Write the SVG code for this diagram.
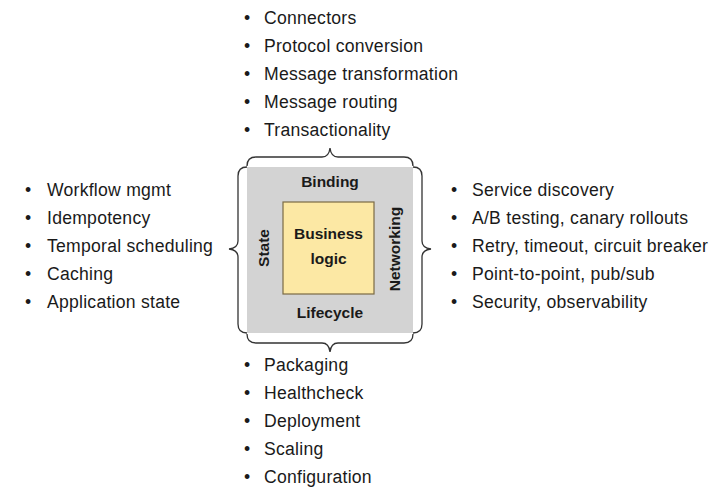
<svg xmlns="http://www.w3.org/2000/svg" width="726" height="495" viewBox="0 0 726 495">
<style>
.li{font-family:"Liberation Sans",Arial,sans-serif;font-size:17.6px;letter-spacing:0.25px;fill:#1a1a1a}
.lb{font-family:"Liberation Sans",Arial,sans-serif;font-size:15.5px;font-weight:bold;fill:#1a1a1a}
.br{fill:none;stroke:#333;stroke-width:1.3}
</style>
<rect width="726" height="495" fill="#fff"/>
<g id="container">
<rect x="247" y="167" width="166" height="166" fill="#d3d3d3"/>
<text class="lb" x="330" y="187" text-anchor="middle">Binding</text>
<text class="lb" x="330" y="318" text-anchor="middle">Lifecycle</text>
<text class="lb" transform="translate(269,248) rotate(-90)" text-anchor="middle">State</text>
<text class="lb" transform="translate(400,249) rotate(-90)" text-anchor="middle">Networking</text>
</g>
<g id="business-logic">
<rect x="283" y="202" width="91" height="92" fill="#fce8a4" stroke="#7a6a45" stroke-width="1.2"/>
<text class="lb" x="328.5" y="239" text-anchor="middle">Business</text>
<text class="lb" x="328.5" y="264" text-anchor="middle">logic</text>
</g>
<g id="connectors">
<path class="br" d="M247,166 Q247,157 256,157 L322,157 Q329,157 330,148 Q331,157 338,157 L404,157 Q413,157 413,166"/>
<path class="br" d="M247,334 Q247,343 256,343 L322,343 Q329,343 330,352 Q331,343 338,343 L404,343 Q413,343 413,334"/>
<path class="br" d="M247,167 Q238,167 238,176 L238,241 Q238,248 229,249 Q238,250 238,257 L238,324 Q238,333 247,333"/>
<path class="br" d="M413,167 Q422,167 422,176 L422,241 Q422,248 431,249 Q422,250 422,257 L422,324 Q422,333 413,333"/>
</g>
<g id="top-list" class="li">
<text x="244" y="24">•</text><text x="264" y="24">Connectors</text>
<text x="244" y="52">•</text><text x="264" y="52">Protocol conversion</text>
<text x="244" y="80">•</text><text x="264" y="80">Message transformation</text>
<text x="244" y="108">•</text><text x="264" y="108">Message routing</text>
<text x="244" y="136">•</text><text x="264" y="136">Transactionality</text>
</g>
<g id="left-list" class="li">
<text x="25" y="196">•</text><text x="47" y="196">Workflow mgmt</text>
<text x="25" y="224">•</text><text x="47" y="224">Idempotency</text>
<text x="25" y="252">•</text><text x="47" y="252">Temporal scheduling</text>
<text x="25" y="280">•</text><text x="47" y="280">Caching</text>
<text x="25" y="308">•</text><text x="47" y="308">Application state</text>
</g>
<g id="right-list" class="li">
<text x="451" y="196">•</text><text x="472" y="196">Service discovery</text>
<text x="451" y="224">•</text><text x="472" y="224">A/B testing, canary rollouts</text>
<text x="451" y="252">•</text><text x="472" y="252">Retry, timeout, circuit breaker</text>
<text x="451" y="280">•</text><text x="472" y="280">Point-to-point, pub/sub</text>
<text x="451" y="308">•</text><text x="472" y="308">Security, observability</text>
</g>
<g id="bottom-list" class="li">
<text x="244" y="371">•</text><text x="264" y="371">Packaging</text>
<text x="244" y="399">•</text><text x="264" y="399">Healthcheck</text>
<text x="244" y="427">•</text><text x="264" y="427">Deployment</text>
<text x="244" y="455">•</text><text x="264" y="455">Scaling</text>
<text x="244" y="483">•</text><text x="264" y="483">Configuration</text>
</g>
</svg>
